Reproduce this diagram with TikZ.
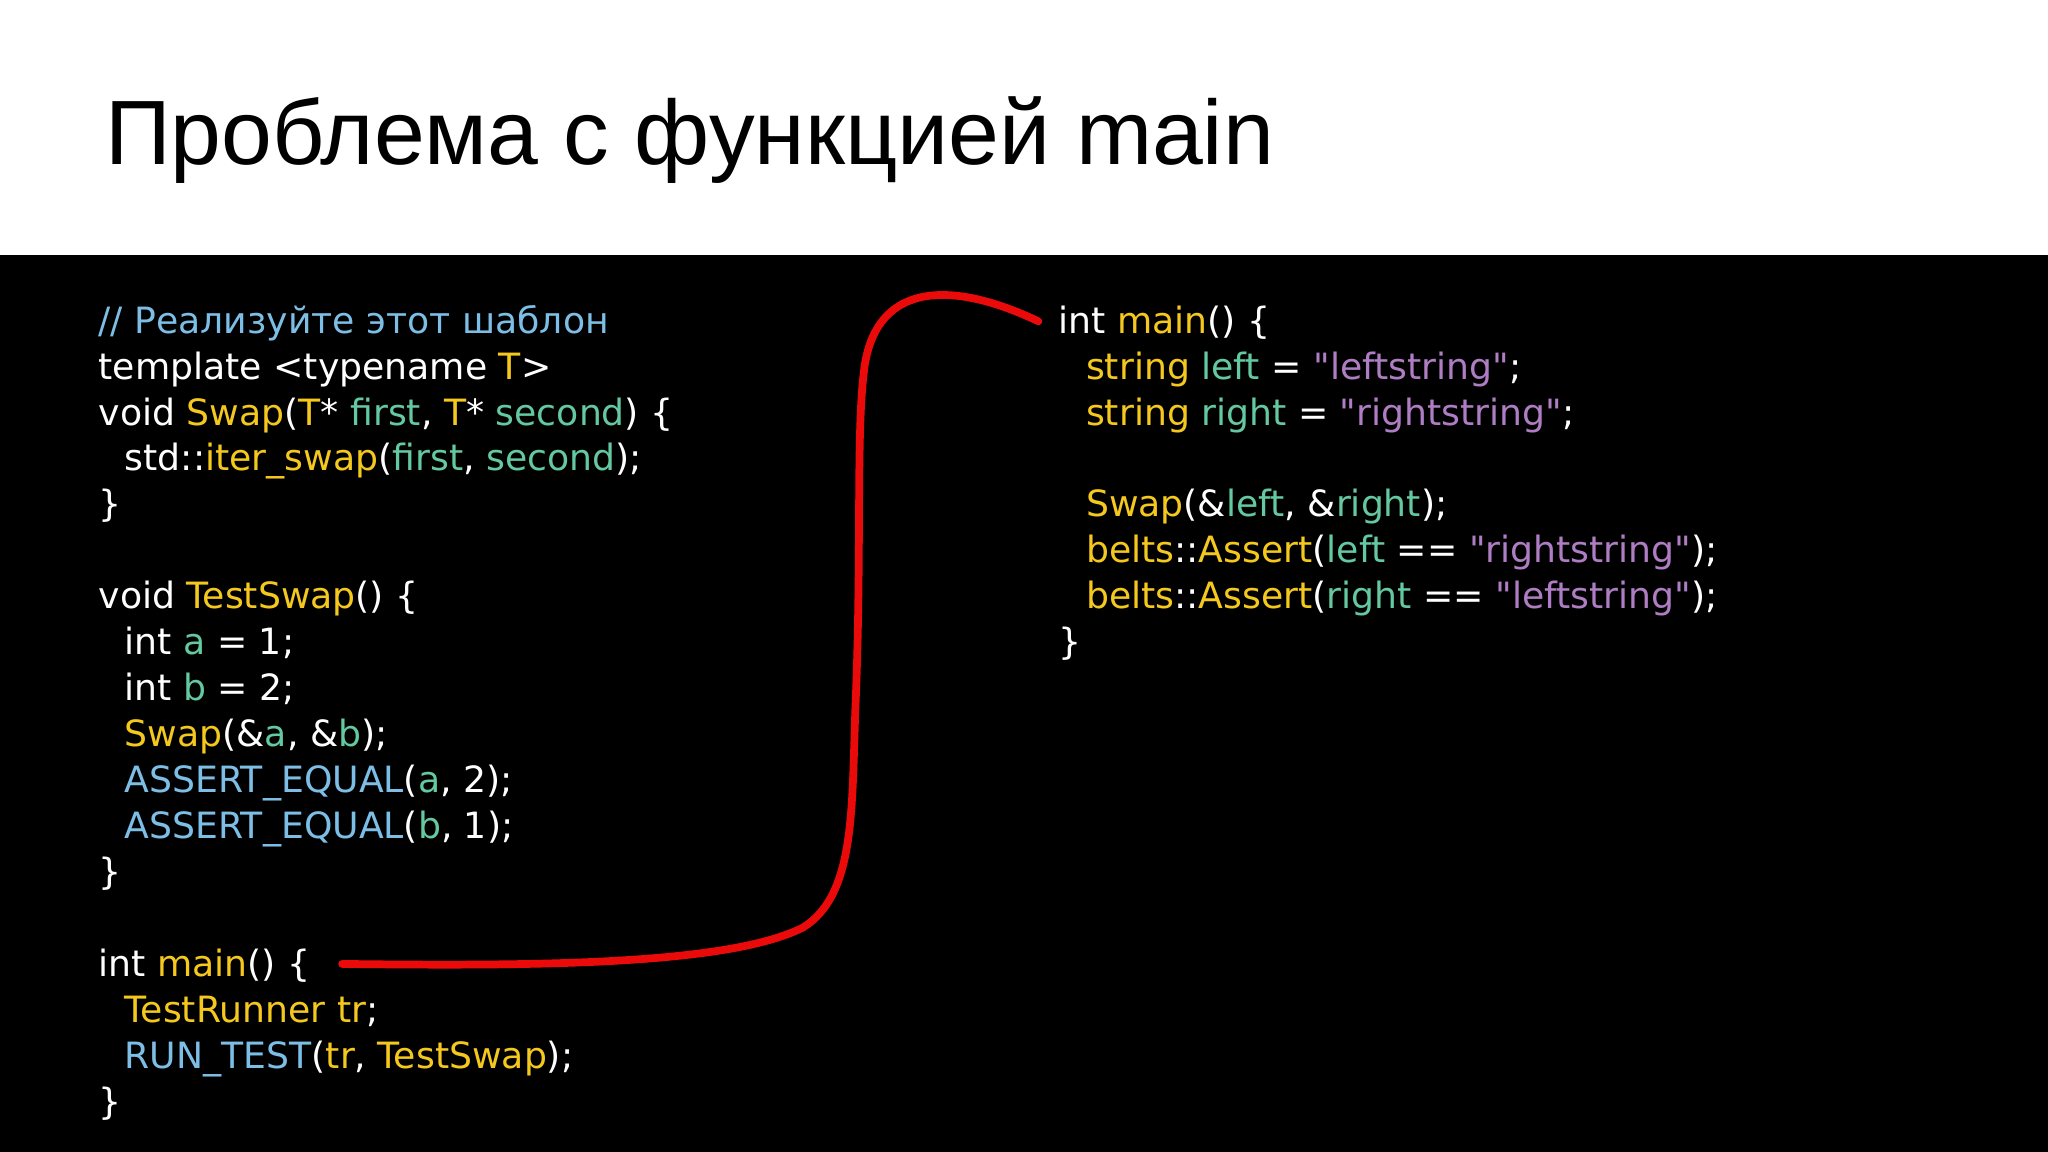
\documentclass[tikz,border=0pt]{standalone}
\usepackage{fontspec}
\setmainfont{Liberation Sans}
\newfontfamily\codefont{DejaVu Sans}
\definecolor{cy}{RGB}{245,200,30}
\definecolor{cg}{RGB}{100,200,160}
\definecolor{cb}{RGB}{125,190,230}
\definecolor{cp}{RGB}{175,125,195}
\definecolor{cr}{RGB}{235,10,10}
\newcommand{\Y}[1]{\textcolor{cy}{#1}}
\newcommand{\G}[1]{\textcolor{cg}{#1}}
\newcommand{\B}[1]{\textcolor{cb}{#1}}
\newcommand{\Pu}[1]{\textcolor{cp}{#1}}
\begin{document}
\begin{tikzpicture}[x=0.013061cm,y=-0.013061cm,
  code/.style={anchor=base west,inner sep=0,text=white,font=\codefont\fontsize{10.3pt}{12pt}\selectfont}]
\useasboundingbox (0,0) rectangle (1568,882);
\fill[white] (0,0) rectangle (1568,195);
\fill[black] (0,195) rectangle (1568,882);
\node[anchor=base west,inner sep=0,font=\fontsize{26pt}{30pt}\selectfont] (title) at (80,126) {Проблема с функцией main};
% left column
\def\L#1{255+#1*35.2}
\node[code] (l0) at (75,{\L0}) {\B{// Реализуйте этот шаблон}};
\node[code] (l1) at (75,{\L1}) {template <typename \Y{T}>};
\node[code] (l2) at (75,{\L2}) {void \Y{Swap}(\Y{T}* \G{first}, \Y{T}* \G{second}) \{};
\node[code] (l3) at (95,{\L3}) {std::\Y{iter\_swap}(\G{first}, \G{second});};
\node[code] (l4) at (75,{\L4}) {\}};
\node[code] (l6) at (75,{\L6}) {void \Y{TestSwap}() \{};
\node[code] (l7) at (95,{\L7}) {int \G{a} = 1;};
\node[code] (l8) at (95,{\L8}) {int \G{b} = 2;};
\node[code] (l9) at (95,{\L9}) {\Y{Swap}(\&\G{a}, \&\G{b});};
\node[code] (l10) at (95,{\L{10}}) {\B{ASSERT\_EQUAL}(\G{a}, 2);};
\node[code] (l11) at (95,{\L{11}}) {\B{ASSERT\_EQUAL}(\G{b}, 1);};
\node[code] (l12) at (75,{\L{12}}) {\}};
\node[code] (l14) at (75,{\L{14}}) {int \Y{main}() \{};
\node[code] (l15) at (95,{\L{15}}) {\Y{TestRunner} \Y{tr};};
\node[code] (l16) at (95,{\L{16}}) {\B{RUN\_TEST}(\Y{tr}, \Y{TestSwap});};
\node[code] (l17) at (75,{\L{17}}) {\}};
% right column
\node[code] (r0) at (810,{\L0}) {int \Y{main}() \{};
\node[code] (r1) at (831,{\L1}) {\Y{string} \G{left} = \Pu{"leftstring"};};
\node[code] (r2) at (831,{\L2}) {\Y{string} \G{right} = \Pu{"rightstring"};};
\node[code] (r4) at (831,{\L4}) {\Y{Swap}(\&\G{left}, \&\G{right});};
\node[code] (r5) at (831,{\L5}) {\Y{belts}::\Y{Assert}(\G{left} == \Pu{"rightstring"});};
\node[code] (r6) at (831,{\L6}) {\Y{belts}::\Y{Assert}(\G{right} == \Pu{"leftstring"});};
\node[code] (r7) at (810,{\L7}) {\}};
% red connector
\coordinate (s) at (262,738);
\coordinate (e) at (795,246);
\draw[cr,line width=2.2pt,line cap=round] (s) .. controls (420,740) and (560,738) .. (615,710)
  .. controls (655,685) and (652,620) .. (655,540)
  .. controls (660,420) and (655,330) .. (662,280)
  .. controls (672,215) and (730,215) .. (e);
\end{tikzpicture}
\end{document}
